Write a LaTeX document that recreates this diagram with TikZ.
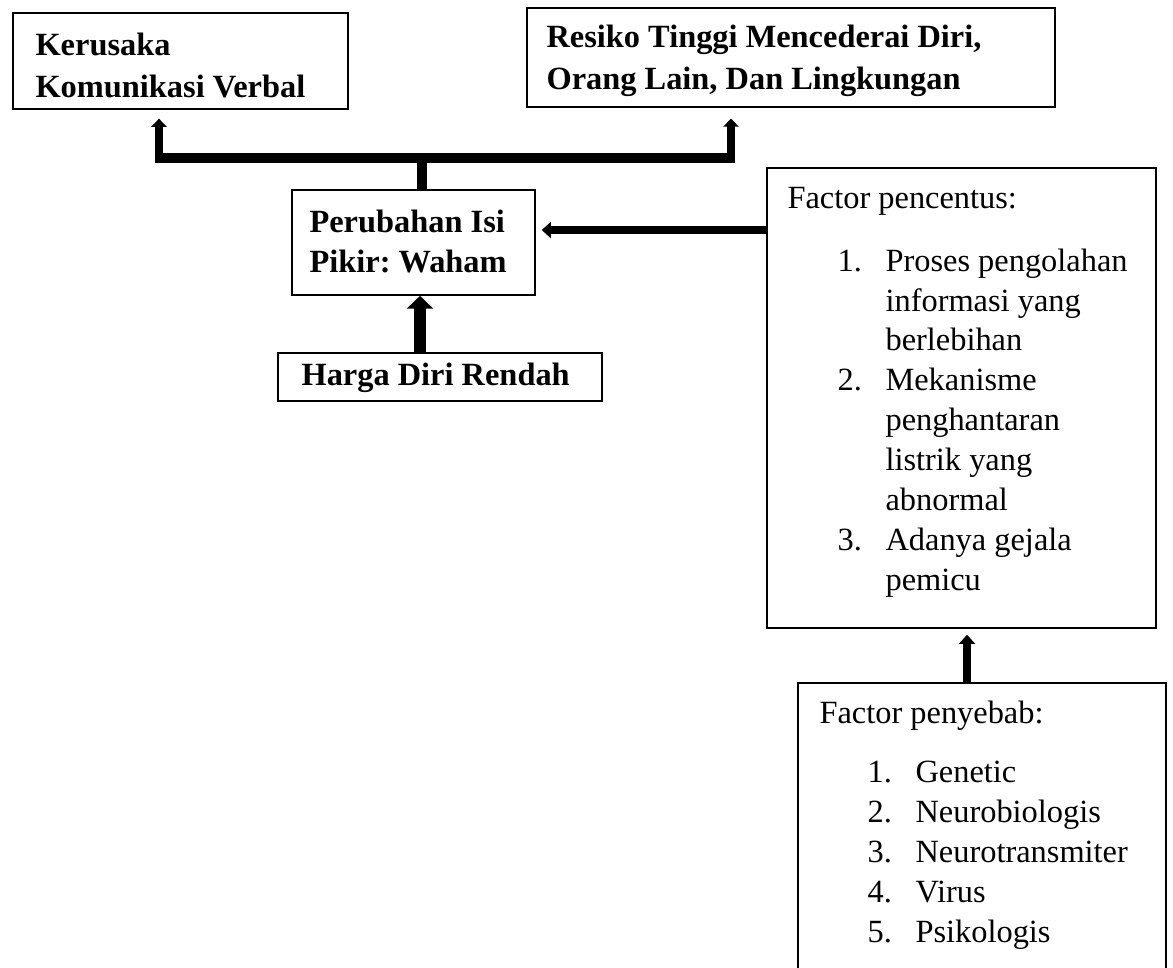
\documentclass[tikz,border=0pt]{standalone}
\usepackage{fontspec}
\setmainfont{Liberation Serif}
\usetikzlibrary{arrows.meta,fit}
\frenchspacing
\begin{document}
\begin{tikzpicture}[x=0.3704pt,y=-0.3704pt,
  box/.style={draw,line width=0.55pt,inner sep=0pt,rectangle},
  txt/.style={anchor=base west,inner sep=0pt,font=\fontsize{12pt}{14pt}\selectfont\frenchspacing},
  btxt/.style={txt,font=\fontsize{12pt}{14pt}\selectfont\bfseries\frenchspacing},
  thinarrow/.style={line width=2.96pt,-{Triangle[length=3.4pt,width=5.9pt]}},
  toparrow/.style={line width=2.96pt,-{Triangle[length=3.0pt,width=5.6pt]}},
  bigarrow/.style={line width=4.44pt,-{Triangle[length=4.8pt,width=9.6pt]}},
  barline/.style={line width=3.7pt}]
\useasboundingbox (0,0) rectangle (1173,967);
% boxes
\node[box,fit={(13,13) (348,109)}] (k) {};
\node[box,fit={(527,8) (1055,107)}] (r) {};
\node[box,fit={(292,190) (535,295)}] (p) {};
\node[box,fit={(278,353) (602,401)}] (h) {};
\node[box,fit={(767,168) (1156,628)}] (pc) {};
\node[box,fit={(798,683) (1166,1000)}] (pe) {};
% texts
\node[btxt] (k1) at (35,55) {Kerusaka};
\node[btxt] (k2) at (35,97) {Komunikasi Verbal};
\node[btxt] (r1) at (546,47) {Resiko Tinggi Mencederai Diri,};
\node[btxt] (r2) at (546,89) {Orang Lain, Dan Lingkungan};
\node[btxt] (p1) at (309,232) {Perubahan Isi};
\node[btxt] (p2) at (309,272) {Pikir: Waham};
\node[btxt] (h1) at (301,385) {Harga Diri Rendah};
\node[txt] (pc0) at (787,208) {Factor pencentus:};
\node[txt] (pcn1) at (837,271) {1.};
\node[txt] (pcn2) at (837,390) {2.};
\node[txt] (pcn3) at (837,550) {3.};
\node[txt] (pc1) at (885,271) {Proses pengolahan};
\node[txt] (pc2) at (885,311) {informasi yang};
\node[txt] (pc3) at (885,350) {berlebihan};
\node[txt] (pc4) at (885,390) {Mekanisme};
\node[txt] (pc5) at (885,430) {penghantaran};
\node[txt] (pc6) at (885,470) {listrik yang};
\node[txt] (pc7) at (885,510) {abnormal};
\node[txt] (pc8) at (885,550) {Adanya gejala};
\node[txt] (pc9) at (885,590) {pemicu};
\node[txt] (pe0) at (819,723) {Factor penyebab:};
\node[txt] (pen1) at (867,782) {1.};
\node[txt] (pen2) at (867,822) {2.};
\node[txt] (pen3) at (867,862) {3.};
\node[txt] (pen4) at (867,902) {4.};
\node[txt] (pen5) at (867,942) {5.};
\node[txt] (pe1) at (915,782) {Genetic};
\node[txt] (pe2) at (915,822) {Neurobiologis};
\node[txt] (pe3) at (915,862) {Neurotransmiter};
\node[txt] (pe4) at (915,902) {Virus};
\node[txt] (pe5) at (915,942) {Psikologis};
% connector coordinates
\coordinate (bl) at (159,158);
\coordinate (br) at (731,158);
\coordinate (barL) at (155,158);
\coordinate (barR) at (735,158);
\coordinate (stem) at (422,158);
\coordinate (ay) at (0,230);
\coordinate (ax) at (420,0);
\coordinate (ex) at (967,0);
% top connector
\draw[barline] (stem |- p.north) -- (stem);
\draw[barline] (barL) -- (barR);
\draw[toparrow,shorten >=3.3pt] (bl) -- (bl |- k.south);
\draw[toparrow,shorten >=4.0pt] (br) -- (br |- r.south);
% other arrows
\draw[thinarrow,shorten >=2.2pt] (ay -| pc.west) -- (ay -| p.east);
\draw[bigarrow] (ax |- h.north) -- (ax |- p.south);
\draw[thinarrow,shorten >=2.2pt] (ex |- pe.north) -- (ex |- pc.south);
\end{tikzpicture}
\end{document}
